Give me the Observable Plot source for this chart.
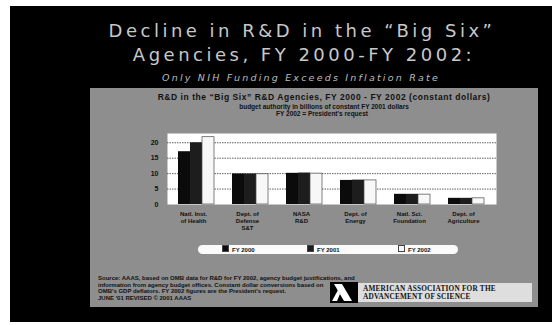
<!DOCTYPE html>
<html><head><meta charset="utf-8">
<script src="https://cdn.jsdelivr.net/npm/d3@7"></script>
<script src="https://cdn.jsdelivr.net/npm/@observablehq/plot@0.6"></script>
<style>
body{margin:0;width:560px;height:325px;background:#fff;position:relative;overflow:hidden;font-family:"Liberation Sans",Arial,sans-serif}
.abs{position:absolute}
#slide{left:10px;top:6px;width:542px;height:316px;background:#000}
#panel{left:90px;top:88px;width:448px;height:219px;background:#8e8e8e}
.t1{left:0;width:600px;text-align:center;color:#c8c8c8;font-family:"DejaVu Sans",sans-serif;font-size:18px;line-height:18px;letter-spacing:3.5px;white-space:nowrap}
.sub{left:0;width:602px;text-align:center;color:#bdbdbd;font-family:"DejaVu Sans",sans-serif;font-size:9.5px;line-height:10px;font-style:italic;letter-spacing:2.2px;white-space:nowrap}
.ct{left:90px;width:468px;text-align:center;color:#111;white-space:nowrap}
#chart{left:130px;top:125px}
#legend{left:198px;top:245px;width:260px;height:9px;background:#fafafa;border-radius:5px}
.li{top:0;height:9px;font-size:6px;line-height:9px;font-weight:bold;color:#111;white-space:nowrap}
.sw{display:inline-block;width:5px;height:5px;margin-right:3px;vertical-align:-0.5px;border:0.5px solid #444}
#foot{left:98px;top:275px;font-size:6px;line-height:6.6px;color:#111;white-space:nowrap;font-weight:bold}
#logoA{left:330px;top:282px;width:28px;height:21px;background:#000}
#logoT{left:358px;top:283px;width:174px;height:19px;background:#dedede;font-family:"Liberation Serif",serif;font-weight:bold;font-size:7.3px;line-height:7.5px;color:#111;padding:2px 0 0 5px;box-sizing:border-box;white-space:nowrap;letter-spacing:0.2px}
</style></head><body>
<div id="slide" class="abs"></div>
<div class="abs t1" style="top:22px;left:2px">Decline in R&amp;D in the “Big Six”</div>
<div class="abs t1" style="top:46px;left:4px">Agencies, FY 2000-FY 2002:</div>
<div class="abs sub" style="top:72.5px">Only NIH Funding Exceeds Inflation Rate</div>
<div id="panel" class="abs"></div>
<div class="abs ct" style="top:93px;font-size:8.5px;line-height:9px;font-weight:bold;letter-spacing:0.55px">R&amp;D in the “Big Six” R&amp;D Agencies, FY 2000 - FY 2002 (constant dollars)</div>
<div class="abs ct" style="top:103px;font-size:6.5px;line-height:7px;font-weight:bold">budget authority in billions of constant FY 2001 dollars</div>
<div class="abs ct" style="top:110px;font-size:6.5px;line-height:7px;font-weight:bold;left:88px">FY 2002 = President's request</div>
<div id="chart" class="abs"></div>
<div id="legend" class="abs"></div>
<div id="foot" class="abs"></div>
<div id="logoA" class="abs"><svg width="28" height="21"><polygon points="4,2 12,2 22,19 14,19" fill="#fff"/><polygon points="2,19 8,8 10,12 7,19" fill="#fff"/></svg></div>
<div id="logoT" class="abs">AMERICAN ASSOCIATION FOR THE<br>ADVANCEMENT OF SCIENCE</div>
<script>
// ---- data ----
const agencies = ["NIH", "DOD", "NASA", "DOE", "NSF", "USDA"];
const agencyLabels = ["Natl. Inst.\nof Health", "Dept. of\nDefense\nS&T", "NASA\nR&D", "Dept. of\nEnergy", "Natl. Sci.\nFoundation", "Dept. of\nAgriculture"];
const years = ["FY 2000", "FY 2001", "FY 2002"];
const fy2000 = [17.1, 9.9, 10.1, 7.8, 3.3, 2.0];
const fy2001 = [20.0, 9.9, 10.2, 7.9, 3.3, 2.0];
const fy2002 = [21.8, 9.8, 10.0, 7.8, 3.2, 2.0];
const yTicks = [0, 5, 10, 15, 20];
const footLines = [
  "Source: AAAS, based on OMB data for R&D for FY 2002, agency budget justifications, and",
  "information from agency budget offices. Constant dollar conversions based on",
  "OMB's GDP deflators. FY 2002 figures are the President's request.",
  "JUNE '01 REVISED © 2001 AAAS"
];

const series = [fy2000, fy2001, fy2002];
const barFill = ["#0b0b0b", "#1d1d1d", "#f7f7f7"];
const barStroke = ["none", "none", "#4a4a4a"];
const barW = 12;

const rows = agencies.flatMap((a, i) => years.map((yr, j) => ({agency: a, year: yr, j, value: series[j][i]})));

const chart = Plot.plot({
  width: 380, height: 112,
  marginLeft: 37, marginRight: 14, marginTop: 8, marginBottom: 33,
  style: {background: "transparent", fontFamily: "Liberation Sans, Arial, sans-serif", fontSize: "7px", fontWeight: "bold", color: "#111"},
  x: {domain: agencies, paddingInner: 0.33, paddingOuter: 0.2, axis: null},
  y: {domain: [0, 23], ticks: yTicks.length, tickSize: 0, tickPadding: 9, label: null},
  marks: [
    Plot.frame({fill: "#ffffff", stroke: "none"}),
    Plot.ruleY(yTicks.slice(1), {stroke: "#3a3a3a", strokeWidth: 0.8, strokeDasharray: "1.5,1"}),
    ...years.map((yr, j) => Plot.barY(rows.filter(d => d.j === j), {
      x: "agency", y: "value", fill: barFill[j], stroke: barStroke[j], strokeWidth: 0.7,
      insetLeft: j * barW, insetRight: (2 - j) * barW
    })),
    Plot.text(agencies, {x: d => d, y: () => 0, text: (d, i) => agencyLabels[i], dy: 6, dx: -3,
      lineAnchor: "top", lineHeight: 1.2, fontSize: 6, fontWeight: "bold", fill: "#111"})
  ]
});
document.getElementById("chart").appendChild(chart);

// legend
const legend = document.getElementById("legend");
const legendX = [24, 109, 200];
years.forEach((yr, j) => {
  const it = document.createElement("div");
  it.className = "abs li";
  it.style.left = legendX[j] + "px";
  it.innerHTML = `<span class="sw" style="background:${barFill[j]}"></span>${yr}`;
  legend.appendChild(it);
});

// footer
document.getElementById("foot").innerHTML = footLines.map(s => s.replace(/&/g, "&amp;")).join("<br>");
</script>
</body></html>
